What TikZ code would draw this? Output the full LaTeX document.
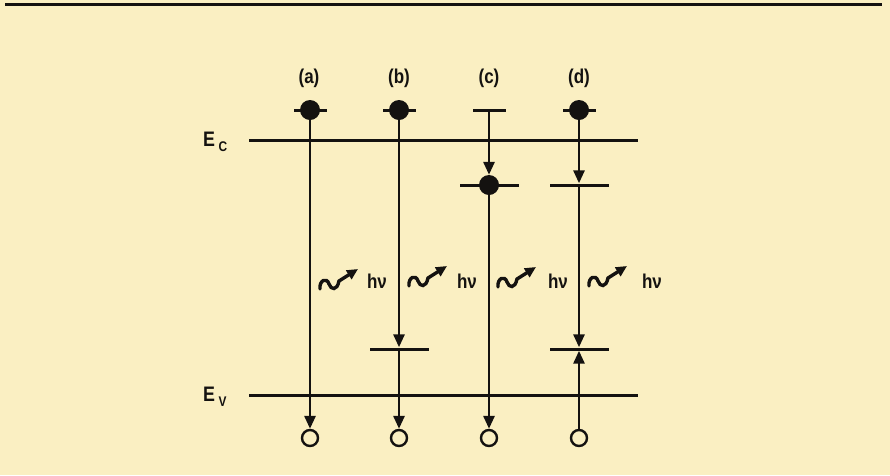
\documentclass[tikz,border=0pt]{standalone}
\usepackage{fontspec}
\setmainfont{Liberation Sans}
\newfontfamily\bandfont[FakeStretch=0.85]{Liberation Sans}
\usetikzlibrary{arrows.meta,positioning,calc}
\definecolor{bgcream}{HTML}{FAEFC2}
\definecolor{ink}{HTML}{141210}

\begin{document}
\begin{tikzpicture}[
  x=1pt, y=-1pt,
  band/.style={draw=ink, line width=3pt},
  trans/.style={draw=ink, line width=2.8pt, -{Triangle[length=13pt,width=11pt]}},
  lvl/.style={fill=ink, inner sep=0pt, minimum height=3pt, minimum width=59pt},
  lvlshort/.style={lvl, minimum width=33pt},
  elec/.style={circle, fill=ink, inner sep=0pt, minimum size=20pt},
  hole/.style={circle, draw=ink, line width=2.4pt, inner sep=0pt, minimum size=16pt, fill=bgcream},
  lbl/.style={font=\bandfont\bfseries\fontsize{20}{22}\selectfont, text=ink, inner sep=0pt},
  elbl/.style={font=\bandfont\bfseries\fontsize{21}{22}\selectfont, text=ink, inner sep=0pt, anchor=base west},
  hnu/.style={font=\bandfont\bfseries\fontsize{20}{22}\selectfont, text=ink, inner sep=0pt, anchor=base},
  photon/.pic={\draw[ink, line width=3.4pt, line cap=round, -{Triangle[length=11pt,width=10pt]}]
    (0,0) .. controls (-1,-9) and (7,-12) .. (9,-5) .. controls (11,1) and (17,2) .. (19,-8) -- (38,-20);},
]

%% ---- Fondo y filete superior ----
\fill[bgcream] (0,0) rectangle (890,475);
\useasboundingbox (0,0) rectangle (890,475);
\draw[ink, line width=3.5pt] (5,4.5) -- (882,4.5);

%% ---- Bandas Ec / Ev ----
\coordinate (ecL) at (249,140);  \coordinate (ecR) at (638,140);
\coordinate (evL) at (249,395);  \coordinate (evR) at (638,395);
\draw[band] (ecL) -- (ecR);
\draw[band] (evL) -- (evR);
\node[elbl] (ec) at (203,146) {E\,\raisebox{-5pt}{\fontsize{14}{14}\selectfont C}};
\node[elbl] (ev) at (203,401) {E\,\raisebox{-5pt}{\fontsize{14}{14}\selectfont V}};

%% ---- Etiquetas de proceso ----
\node[lbl] (la) at (309,78) {(a)};
\node[lbl] (lb) at (399,78) {(b)};
\node[lbl] (lc) at (489,78) {(c)};
\node[lbl] (ld) at (579,78) {(d)};

%% ---- Niveles ----
\node[lvlshort] (lvlA1) at (310,110) {};
\node[lvlshort] (lvlB1) at (399,110) {};
\node[lvlshort] (lvlC1) at (489,110) {};
\node[lvlshort] (lvlD1) at (579,110) {};
\node[lvl] (lvlC2) at (489,185) {};
\node[lvl] (lvlD2) at (579,185) {};
\node[lvl] (lvlB3) at (399,349) {};
\node[lvl] (lvlD3) at (579,349) {};

%% ---- Electrones y huecos ----
\node[elec] (elecA) at (310,110) {};
\node[elec] (elecB) at (399,110) {};
\node[elec] (elecC) at (489,185) {};
\node[elec] (elecD) at (579,110) {};
\node[hole] (holeA) at (310,438) {};
\node[hole] (holeB) at (399,438) {};
\node[hole] (holeC) at (489,438) {};
\node[hole] (holeD) at (579,438) {};

%% ---- Transiciones ----
\draw[trans] (elecA) -- (holeA);
\draw[trans] (elecB) -- (lvlB3);
\draw[trans] (lvlB3) -- (holeB);
\draw[trans] (lvlC1) -- (elecC);
\draw[trans] (elecC) -- (holeC);
\draw[trans] (elecD) -- (lvlD2);
\draw[trans] (lvlD2) -- (lvlD3);
\draw[trans] (holeD) -- (lvlD3);

%% ---- Fotones emitidos ----
\pic at (320,289) {photon};
\pic at (409,286) {photon};
\pic at (498,287) {photon};
\pic at (589,286) {photon};
\node[hnu] (hnuA) at (377,288) {hν};
\node[hnu] (hnuB) at (467,288) {hν};
\node[hnu] (hnuC) at (558,288) {hν};
\node[hnu] (hnuD) at (652,288) {hν};

\end{tikzpicture}
\end{document}
